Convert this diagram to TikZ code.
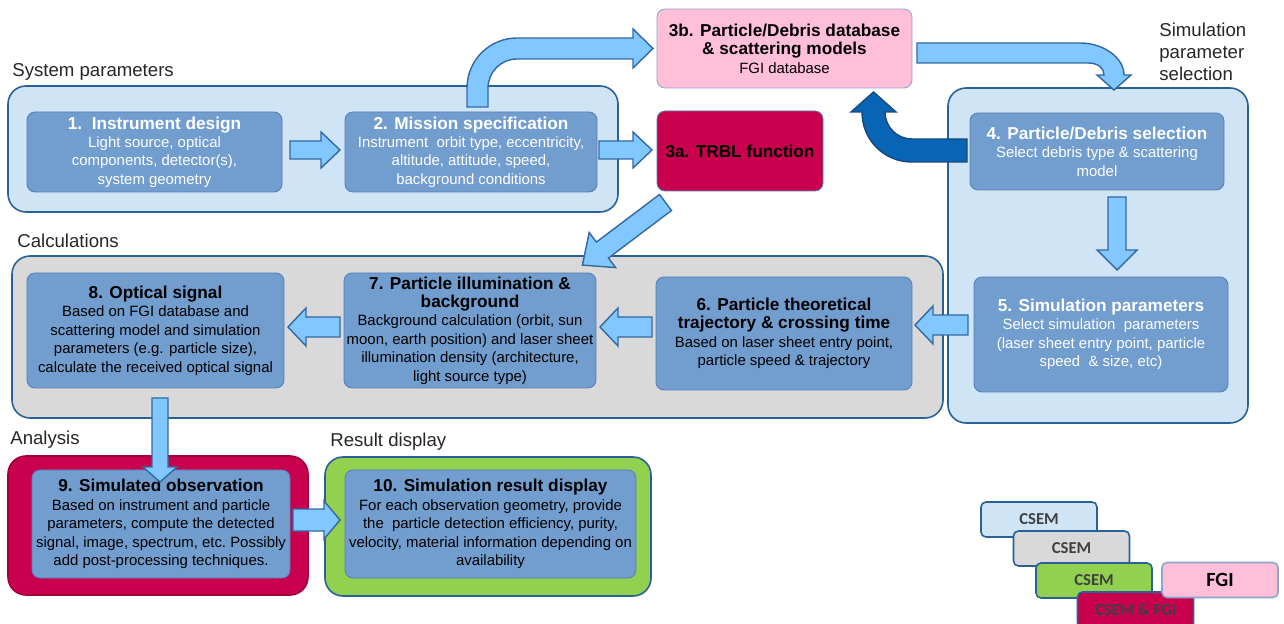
\documentclass[tikz,border=0pt]{standalone}
\usepackage{fontspec}
\setmainfont{Liberation Sans}
\newfontfamily\legfont{Carlito}
\definecolor{contblue}{RGB}{207,228,245}
\definecolor{contedge}{RGB}{40,96,152}
\definecolor{boxfill}{RGB}{114,157,207}
\definecolor{boxedge}{RGB}{88,128,184}
\definecolor{arrfill}{RGB}{128,200,255}
\definecolor{arredge}{RGB}{52,104,160}
\definecolor{darrfill}{RGB}{8,100,180}
\definecolor{darredge}{RGB}{24,72,128}
\definecolor{crimson}{RGB}{200,0,78}
\definecolor{lgreen}{RGB}{146,208,80}
\definecolor{lpink}{RGB}{255,191,217}
\definecolor{pinkedge}{RGB}{142,165,204}
\definecolor{lgrey}{RGB}{217,217,217}
\definecolor{txtgrey}{RGB}{64,64,64}
\newdimen\pxu \pxu=0.02cm
\newcommand{\ttl}{\fontsize{9.8}{12}\selectfont\bfseries}
\newcommand{\bdy}{\fontsize{8.5}{10.5}\selectfont}
\newcommand{\lbl}{\fontsize{10.6}{12.5}\selectfont}
\newcommand{\blkarrow}[7]{\draw[#1,shift={#2},rotate=#3] (0,-#5) -- (#4-#7,-#5) -- (#4-#7,-#6) -- (#4,0) -- (#4-#7,#6) -- (#4-#7,#5) -- (0,#5) -- cycle;}
\tikzset{
  cont/.style={draw=contedge, line width=0.9pt, rounded corners=0.36cm, inner sep=0pt},
  inbox/.style={draw=boxedge, fill=boxfill, line width=0.5pt, rounded corners=0.16cm, align=center, inner sep=0pt, font=\bdy},
  wt/.style={text=white},
  bt/.style={text=black},
  larr/.style={draw=arredge, fill=arrfill, line width=0.8pt, line join=miter},
  darr/.style={draw=darredge, fill=darrfill, line width=0.8pt, line join=miter},
  seclabel/.style={font=\lbl, text=black!85, anchor=west, inner sep=0pt, align=left},
  legbox/.style={draw=contedge, line width=0.9pt, rounded corners=0.1cm, inner sep=0pt, minimum width=116\pxu, minimum height=35\pxu, font=\legfont\bfseries\fontsize{9.5}{11}\selectfont, text=txtgrey},
}
\begin{document}
\begin{tikzpicture}[x=0.02cm,y=-0.02cm]
\useasboundingbox (0,0) rectangle (1284,624);
% section labels
\node[seclabel] (lsys) at (12,72) {System parameters};
\node[seclabel] (lcalc) at (17,241) {Calculations};
\node[seclabel] (lana) at (10,440) {Analysis};
\node[seclabel] (lres) at (330,442) {Result display};
\node[seclabel] (lsim) at (1159,52) {Simulation\\parameter\\selection};
% containers
\node[cont, fill=contblue, minimum width=610\pxu, minimum height=126\pxu] (sys) at (313,149) {};
\node[cont, fill=lgrey, minimum width=931\pxu, minimum height=162\pxu] (calc) at (477.5,337) {};
\node[cont, fill=contblue, minimum width=300\pxu, minimum height=335\pxu] (simsel) at (1098,255.5) {};
\node[cont, fill=crimson, draw=crimson!80!black, minimum width=300\pxu, minimum height=139\pxu] (ana) at (158,525.5) {};
\node[cont, fill=lgreen, minimum width=326\pxu, minimum height=139\pxu] (res) at (488,526.5) {};
% boxes
\node[inbox, wt, minimum width=255\pxu, minimum height=80\pxu] (b1) at (154.5,152)
 {{\ttl 1.\ \ Instrument design}\\{\bdy Light source, optical}\\{\bdy components,\ detector(s),}\\{\bdy system geometry}};
\node[inbox, wt, minimum width=252\pxu, minimum height=80\pxu] (b2) at (471,152)
 {{\ttl 2. Mission specification}\\{\bdy Instrument\ \ orbit type, eccentricity,}\\{\bdy altitude,\ attitude,\ speed,}\\{\bdy background\ conditions}};
\node[inbox, bt, fill=crimson, minimum width=166\pxu, minimum height=80\pxu] (b3a) at (740,151)
 {{\ttl 3a. TRBL function}};
\node[inbox, bt, fill=lpink, draw=pinkedge, minimum width=255\pxu, minimum height=79\pxu] (b3b) at (784.5,48.5)
 {{\ttl 3b. Particle/Debris database}\\{\ttl \& scattering models}\\{\bdy FGI database}};
\node[inbox, wt, minimum width=254\pxu, minimum height=77\pxu] (b4) at (1097,151.5)
 {{\ttl 4. Particle/Debris selection}\\{\bdy Select debris type \& scattering}\\{\bdy model}};
\node[inbox, wt, minimum width=254\pxu, minimum height=115\pxu] (b5) at (1101,334.5)
 {{\ttl 5. Simulation parameters}\\{\bdy Select simulation\ \ parameters}\\{\bdy (laser sheet entry point, particle}\\{\bdy speed\ \ \& size, etc)}};
\node[inbox, bt, minimum width=256\pxu, minimum height=113\pxu] (b6) at (784,333.5)
 {{\ttl 6. Particle theoretical}\\{\ttl trajectory \& crossing time}\\{\bdy Based on laser sheet entry point,}\\{\bdy particle speed \& trajectory}};
\node[inbox, bt, minimum width=252\pxu, minimum height=115\pxu] (b7) at (470,330.5)
 {{\ttl 7. Particle illumination \&}\\{\ttl background}\\{\bdy Background calculation (orbit, sun}\\{\bdy moon, earth position) and laser sheet}\\{\bdy illumination density (architecture,}\\{\bdy light source type)}};
\node[inbox, bt, minimum width=257\pxu, minimum height=115\pxu] (b8) at (155.5,330.5)
 {{\ttl 8. Optical signal}\\{\bdy Based on FGI database and}\\{\bdy scattering model and simulation}\\{\bdy parameters (e.g. particle size),}\\{\bdy calculate the received optical signal}};
\node[inbox, bt, minimum width=258\pxu, minimum height=108\pxu] (b9) at (161,524)
 {{\ttl 9. Simulated observation}\\{\bdy Based on instrument\ and particle}\\{\bdy parameters, compute the detected}\\{\bdy signal, image, spectrum, etc.\ Possibly}\\{\bdy add post-processing techniques.}};
\node[inbox, bt, minimum width=291\pxu, minimum height=108\pxu] (b10) at (490.5,524)
 {{\ttl 10. Simulation result display}\\{\bdy For each observation geometry, provide}\\{\bdy the\ \ particle detection efficiency, purity,}\\{\bdy velocity,\ material information depending on}\\{\bdy availability}};
% legend
\node[legbox, fill=contblue] (lg1) at (1039,519.5) {CSEM};
\node[legbox, fill=lgrey] (lg2) at (1071.5,548.5) {CSEM};
\node[legbox, fill=lgreen] (lg3) at (1094,580.5) {CSEM};
\node[legbox, fill=crimson, minimum height=36\pxu] (lg4) at (1135.5,610) {CSEM \& FGI};
\node[legbox, fill=lpink, draw=pinkedge, text=black, font=\legfont\bfseries\fontsize{11.5}{13}\selectfont] (lg5) at (1220,580) {FGI};
% straight block arrows
\blkarrow{larr}{(290,150)}{0}{50}{9}{18}{19}
\blkarrow{larr}{(599,150)}{0}{53}{9}{18}{19}
\blkarrow{larr}{(1117,197)}{-90}{73}{9}{20}{20}
\blkarrow{larr}{(968,325)}{180}{53}{10}{19}{18}
\blkarrow{larr}{(652,327)}{180}{52}{10}{19}{18}
\blkarrow{larr}{(340,327)}{180}{52}{10}{19}{18}
\blkarrow{larr}{(160,398)}{-90}{84}{8}{17}{15}
\blkarrow{larr}{(293,520)}{0}{47}{11}{19}{16}
\blkarrow{larr}{(665.5,202.5)}{217}{104}{10}{22}{25}
% curved arrows
\draw[larr] (467,107) -- (467,88) .. controls (467,60.4) and (489.4,38) .. (517,38) -- (633,38) -- (633,29) -- (653,48.5) -- (633,68) -- (633,59) -- (517,59) .. controls (501,59) and (488,72) .. (488,88) -- (488,107) -- cycle;
\draw[larr] (917,43) -- (1080,43) .. controls (1104,43) and (1124,58) .. (1124,75) -- (1131,75) -- (1114,90) -- (1097,75) -- (1104,75) .. controls (1104,68) and (1098,63) .. (1088,63) -- (917,63) -- cycle;
\draw[darr] (967,139) -- (912,139) .. controls (897,139) and (885,127) .. (885,112) -- (896,112) -- (873.5,92) -- (851,112) -- (862,112) .. controls (862,140) and (884,162) .. (912,162) -- (967,162) -- cycle;
\end{tikzpicture}
\end{document}
